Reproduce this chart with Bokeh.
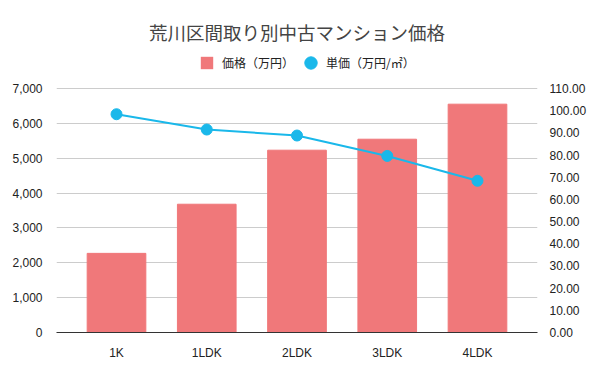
from bokeh.plotting import figure
from bokeh.models import (FactorRange, Range1d, LinearAxis, NumeralTickFormatter,
                          FixedTicker, Legend, LegendItem)
from bokeh.embed import file_html
from bokeh.resources import INLINE

categories = ["1K", "1LDK", "2LDK", "3LDK", "4LDK"]
price = [2270, 3680, 5230, 5545, 6550]          # 価格（万円）
unit_price = [98.4, 91.5, 88.8, 79.6, 68.4]     # 単価（万円/㎡）
left_ticks = [0, 1000, 2000, 3000, 4000, 5000, 6000, 7000]
right_ticks = [0, 10, 20, 30, 40, 50, 60, 70, 80, 90, 100, 110]

BAR = "#F0787A"
DOT = "#1AB8EA"
FONT = "Liberation Sans, Noto Sans CJK JP"
JFONT = "Noto Sans CJK JP"

# layout (pixels): the frame reaches up to hold the legend; the axes'
# top tick (7000 / 110) sits at AXIS_TOP.
H = 371
FRAME_TOP = 50
AXIS_TOP = 88
FRAME_BOTTOM = 332
scale = (FRAME_BOTTOM - FRAME_TOP) / (FRAME_BOTTOM - AXIS_TOP)
left_max = left_ticks[-1] * scale
right_max = right_ticks[-1] * scale

p = figure(width=600, height=H, output_backend="svg", toolbar_location=None,
           x_range=FactorRange(factors=categories, range_padding=0.165,
                               range_padding_units="absolute"),
           y_range=Range1d(0, left_max),
           min_border_left=56, min_border_right=63,
           min_border_bottom=H - FRAME_BOTTOM, min_border_top=FRAME_TOP)
p.extra_y_ranges = {"right": Range1d(0, right_max)}
p.outline_line_color = None
p.background_fill_color = "white"
p.border_fill_color = "white"

p.title.text = "荒川区間取り別中古マンション価格"
p.title.align = "center"
p.title.text_font = JFONT
p.title.text_font_size = "18.5px"
p.title.text_font_style = "normal"
p.title.text_color = "#444444"
p.title.standoff = 12
p.title.offset = 3

bars = p.vbar(x=categories, top=price, width=0.65, color=BAR)
# zero-size square marker: only used as the legend swatch for the bars
bar_key = p.scatter(x=categories, y=price, marker="square", size=0,
                    color=BAR, line_color=None)
line = p.line(x=categories, y=unit_price, y_range_name="right",
              line_color=DOT, line_width=2)
dots = p.scatter(x=categories, y=unit_price, y_range_name="right",
                 size=11, color=DOT)

p.xgrid.grid_line_color = None
p.ygrid.grid_line_color = "#cccccc"
p.ygrid.ticker = FixedTicker(ticks=left_ticks)

xa = p.xaxis[0]
xa.axis_line_color = "#333333"
xa.major_tick_line_color = None
xa.minor_tick_line_color = None
xa.major_label_standoff = 7
xa.major_label_text_font = FONT
xa.major_label_text_font_size = "12px"
xa.major_label_text_color = "#222222"

ya = p.yaxis[0]
ya.ticker = FixedTicker(ticks=left_ticks)
ya.formatter = NumeralTickFormatter(format="0,0")
ya.axis_line_color = None
ya.major_tick_line_color = None
ya.minor_tick_line_color = None
ya.major_label_standoff = 8
ya.major_label_text_font = FONT
ya.major_label_text_font_size = "12px"
ya.major_label_text_color = "#222222"

ra = LinearAxis(y_range_name="right", ticker=FixedTicker(ticks=right_ticks),
                formatter=NumeralTickFormatter(format="0.00"))
ra.axis_line_color = None
ra.major_tick_line_color = None
ra.minor_tick_line_color = None
ra.major_label_standoff = 6
ra.major_label_text_font = FONT
ra.major_label_text_font_size = "12px"
ra.major_label_text_color = "#222222"
p.add_layout(ra, "right")

legend = Legend(items=[LegendItem(label="価格（万円）", renderers=[bar_key]),
                       LegendItem(label="単価（万円/㎡）", renderers=[dots])],
                orientation="horizontal", location=(135, FRAME_BOTTOM - 78),
                label_text_font=JFONT, label_text_font_size="12px",
                label_text_color="#222222", glyph_width=31, glyph_height=31,
                label_standoff=-2, spacing=1, border_line_color=None,
                background_fill_alpha=0, padding=0, margin=0)
p.add_layout(legend)

open("out.html", "w").write(file_html(p, INLINE))
